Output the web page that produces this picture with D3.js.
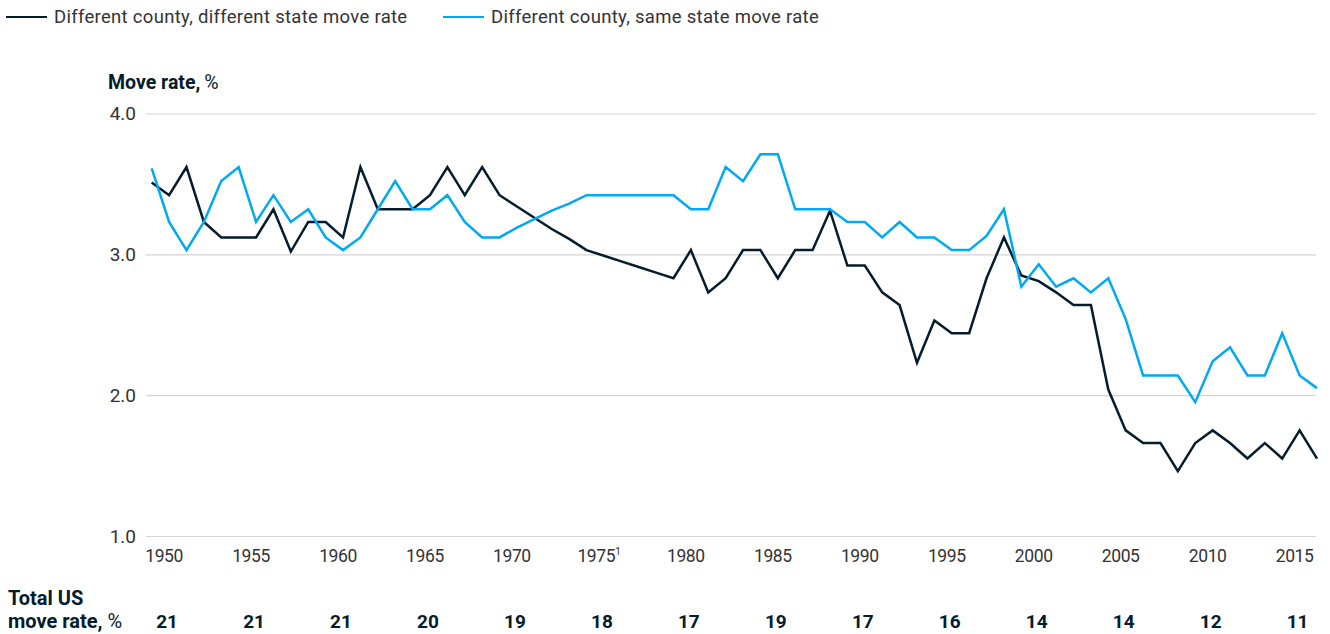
<!DOCTYPE html>
<html>
<head>
<meta charset="utf-8">
<script src="https://cdn.jsdelivr.net/npm/d3@7"></script>
<style>
  body { margin: 0; background: #fff; font-family: Roboto, "Liberation Sans", sans-serif; }
</style>
</head>
<body>
<script>
const firstYear = 1949;

// Different county, different state move rate, %
const diffState = [
  3.51, 3.42, 3.62, 3.23, 3.12, 3.12, 3.12, 3.32, 3.02, 3.23,
  3.23, 3.12, 3.62, 3.32, 3.32, 3.32, 3.42, 3.62, 3.42, 3.62,
  3.42, 3.34, 3.26, 3.18, 3.11, 3.03, 2.99, 2.95, 2.91, 2.87,
  2.83, 3.03, 2.73, 2.83, 3.03, 3.03, 2.83, 3.03, 3.03, 3.31,
  2.92, 2.92, 2.73, 2.64, 2.23, 2.53, 2.44, 2.44, 2.83, 3.12,
  2.85, 2.81, 2.73, 2.64, 2.64, 2.04, 1.75, 1.66, 1.66, 1.46,
  1.66, 1.75, 1.66, 1.55, 1.66, 1.55, 1.75, 1.55
];

// Different county, same state move rate, %
const sameState = [
  3.61, 3.23, 3.03, 3.23, 3.52, 3.62, 3.23, 3.42, 3.23, 3.32,
  3.12, 3.03, 3.12, 3.32, 3.52, 3.32, 3.32, 3.42, 3.23, 3.12,
  3.12, 3.19, 3.25, 3.31, 3.36, 3.42, 3.42, 3.42, 3.42, 3.42,
  3.42, 3.32, 3.32, 3.62, 3.52, 3.71, 3.71, 3.32, 3.32, 3.32,
  3.23, 3.23, 3.12, 3.23, 3.12, 3.12, 3.03, 3.03, 3.13, 3.32,
  2.77, 2.93, 2.77, 2.83, 2.73, 2.83, 2.54, 2.14, 2.14, 2.14,
  1.95, 2.24, 2.34, 2.14, 2.14, 2.44, 2.14, 2.05
];

const tickYears = [1950, 1955, 1960, 1965, 1970, 1975, 1980, 1985, 1990, 1995, 2000, 2005, 2010, 2015];
const totalMoveRate = [21, 21, 21, 20, 19, 18, 17, 19, 17, 16, 14, 14, 12, 11];
const yTicks = [1.0, 2.0, 3.0, 4.0];

const series = [
  { name: 'Different county, different state move rate', values: diffState, color: '#051C2C' },
  { name: 'Different county, same state move rate', values: sameState, color: '#00A9F4' }
];

const W = 1330, H = 634;
const textColor = '#333';
const navy = '#051C2C';

const svg = d3.select('body').append('svg')
  .attr('width', W)
  .attr('height', H);

const x = d3.scaleLinear()
  .domain([firstYear, firstYear + diffState.length - 1])
  .range([151.7, 1317]);

const y = d3.scaleLinear()
  .domain([1, 4])
  .range([536, 113.5]);

// legend
const legendX = [6, 443];
series.forEach((s, i) => {
  const g = svg.append('g').attr('transform', `translate(${legendX[i]},17)`);
  g.append('line')
    .attr('x1', 0).attr('x2', 41)
    .attr('stroke', s.color).attr('stroke-width', 2);
  g.append('text')
    .attr('x', 48).attr('dy', '0.35em')
    .attr('font-size', 18.5).attr('letter-spacing', 0.3).attr('fill', textColor)
    .text(s.name);
});

// y axis title
const title = svg.append('text')
  .attr('x', 108).attr('y', 89)
  .attr('font-size', 19.5).attr('fill', navy);
title.append('tspan').attr('font-weight', 'bold').text('Move rate,');
title.append('tspan').attr('dx', 4).text('%');

// gridlines + y labels
const yAxis = svg.append('g')
  .attr('transform', 'translate(146,0)')
  .call(d3.axisLeft(y).tickValues(yTicks).tickFormat(d3.format('.1f')).tickSize(-(1316 - 146)).tickPadding(10));
yAxis.select('.domain').remove();
yAxis.selectAll('.tick line').attr('stroke', '#d4d4d4').attr('stroke-width', 1.2);
yAxis.selectAll('.tick text')
  .attr('font-size', 19).attr('fill', textColor)
  .attr('font-family', 'Roboto, "Liberation Sans", sans-serif');

// x labels
const xLabels = svg.append('g');
tickYears.forEach(yr => {
  const t = xLabels.append('text')
    .attr('x', x(yr) - 5).attr('y', 562)
    .attr('text-anchor', 'middle')
    .attr('font-size', 17.5).attr('letter-spacing', -0.4).attr('fill', textColor)
    .text(yr);
  if (yr === 1975) {
    t.append('tspan').attr('font-size', 10).attr('dy', -7).text('1');
  }
});

// lines
const line = d3.line()
  .x((d, i) => x(firstYear + i))
  .y(d => y(d));

series.forEach(s => {
  svg.append('path')
    .datum(s.values)
    .attr('fill', 'none')
    .attr('stroke', s.color)
    .attr('stroke-width', 2.5)
    .attr('stroke-linejoin', 'miter')
    .attr('d', line);
});

// total US move rate row
svg.append('text')
  .attr('x', 8).attr('y', 605)
  .attr('font-size', 20).attr('font-weight', 'bold').attr('fill', navy)
  .text('Total US');
const mr = svg.append('text')
  .attr('x', 8).attr('y', 628)
  .attr('font-size', 20).attr('fill', navy);
mr.append('tspan').attr('font-weight', 'bold').text('move rate,');
mr.append('tspan').text(' %');

svg.append('g').selectAll('text')
  .data(totalMoveRate)
  .join('text')
  .attr('x', (d, i) => x(tickYears[i]) - 2)
  .attr('y', 628)
  .attr('text-anchor', 'middle')
  .attr('font-size', 19).attr('font-weight', 'bold').attr('fill', navy)
  .text(d => d);
</script>
</body>
</html>
